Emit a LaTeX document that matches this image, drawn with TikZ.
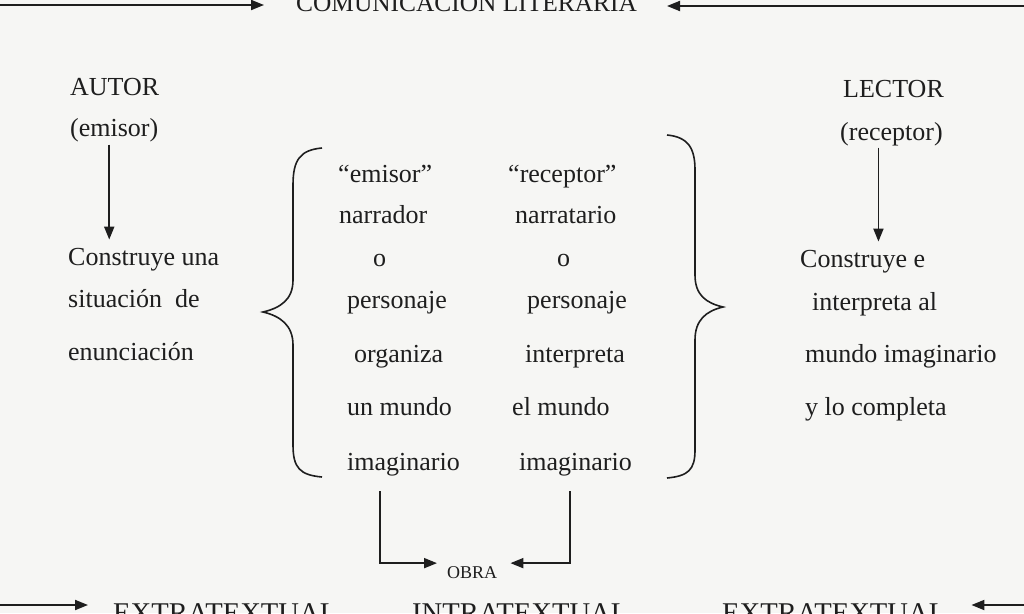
\documentclass[tikz,border=0pt]{standalone}
\usepackage{fontspec}
\setmainfont{Liberation Serif}
\usetikzlibrary{arrows.meta}
\definecolor{ink}{RGB}{30,30,30}
\definecolor{paper}{RGB}{246,246,244}
\begin{document}
\begin{tikzpicture}[x=1pt,y=-1pt,
  t/.style={anchor=base west, inner sep=0pt, text=ink, font=\fontsize{26}{30}\selectfont},
  big/.style={t, font=\fontsize{28.6}{32}\selectfont},
  arr/.style={draw=ink, line width=1.9pt, -{Triangle[length=13pt,width=10pt]}},
  brace/.style={draw=ink, line width=1.6pt}]
\useasboundingbox (0,0) rectangle (1024,613);
\clip (0,0) rectangle (1024,613);
\fill[paper] (0,0) rectangle (1024,613);

% top
\node[t, font=\fontsize{25.4}{30}\selectfont] (com) at (296,11) {COMUNICACIÓN LITERARIA};
\coordinate (tl) at (0,5);
\coordinate (tlTip) at (264,5);
\coordinate (tr) at (1024,6);
\coordinate (trTip) at (667,6);
\draw[arr] (tl) -- (tlTip);
\draw[arr] (tr) -- (trTip);

% left column
\node[t] (autor) at (70,95) {AUTOR};
\node[t] (emisor) at (70,136) {(emisor)};
\node[t] (c1) at (68,265) {Construye una};
\node[t] (c2) at (68,307) {situación\ \ de};
\node[t] (c3) at (68,360) {enunciación};
\draw[arr, shorten <=3pt, shorten >=8pt] ([xshift=-5pt]emisor.south) -- ([xshift=-5pt]emisor.south |- c1.north);

% right column
\node[t] (lector) at (843,97) {LECTOR};
\node[t] (receptor) at (840,140) {(receptor)};
\node[t] (d1) at (800,267) {Construye e};
\node[t] (d2) at (812,310) {interpreta al};
\node[t] (d3) at (805,362) {mundo imaginario};
\node[t] (d4) at (805,415) {y lo completa};
\draw[arr, shorten <=2pt, shorten >=8pt] ([xshift=-13pt]receptor.south) -- ([xshift=-13pt]receptor.south |- d1.north);

% middle left
\node[t] (l1) at (338,182) {“emisor”};
\node[t] (l2) at (339,223) {narrador};
\node[t] (l3) at (373,266) {o};
\node[t] (l4) at (347,308) {personaje};
\node[t] (l5) at (354,362) {organiza};
\node[t] (l6) at (347,415) {un mundo};
\node[t] (l7) at (347,470) {imaginario};

% middle right
\node[t] (r1) at (508,182) {“receptor”};
\node[t] (r2) at (515,223) {narratario};
\node[t] (r3) at (557,266) {o};
\node[t] (r4) at (527,308) {personaje};
\node[t] (r5) at (525,362) {interpreta};
\node[t] (r6) at (512,415) {el mundo};
\node[t] (r7) at (519,470) {imaginario};

% braces
\draw[brace] (322,148) .. controls (300,150) and (293,160) .. (293,185) -- (293,280)
  .. controls (293,300) and (280,308) .. (263,312)
  .. controls (280,316) and (293,325) .. (293,345) -- (293,445)
  .. controls (293,468) and (300,475) .. (322,477);
\draw[brace] (667,135) .. controls (688,137) and (695,148) .. (695,170) -- (695,275)
  .. controls (695,295) and (706,303) .. (723,307)
  .. controls (706,311) and (695,320) .. (695,340) -- (695,450)
  .. controls (695,470) and (688,476) .. (667,478);

% obra
\node[t, font=\fontsize{18}{20}\selectfont] (obra) at (447,578) {OBRA};
\coordinate (oL) at (380,491);
\coordinate (oR) at (570,491);
\draw[arr, shorten >=10pt] (oL) |- ([yshift=9pt]obra.west);
\draw[arr, shorten >=13pt] (oR) |- ([yshift=9pt]obra.east);

% bottom
\node[big] (ex1) at (113,622) {EXTRATEXTUAL};
\node[big] (in) at (412,622) {INTRATEXTUAL};
\node[big] (ex2) at (722,622) {EXTRATEXTUAL};
\coordinate (bl) at (0,605);
\coordinate (br) at (1024,605);
\draw[arr, shorten >=25pt] (bl) -- (bl -| ex1.west);
\draw[arr, shorten >=25pt] (br) -- (br -| ex2.east);
\end{tikzpicture}
\end{document}
